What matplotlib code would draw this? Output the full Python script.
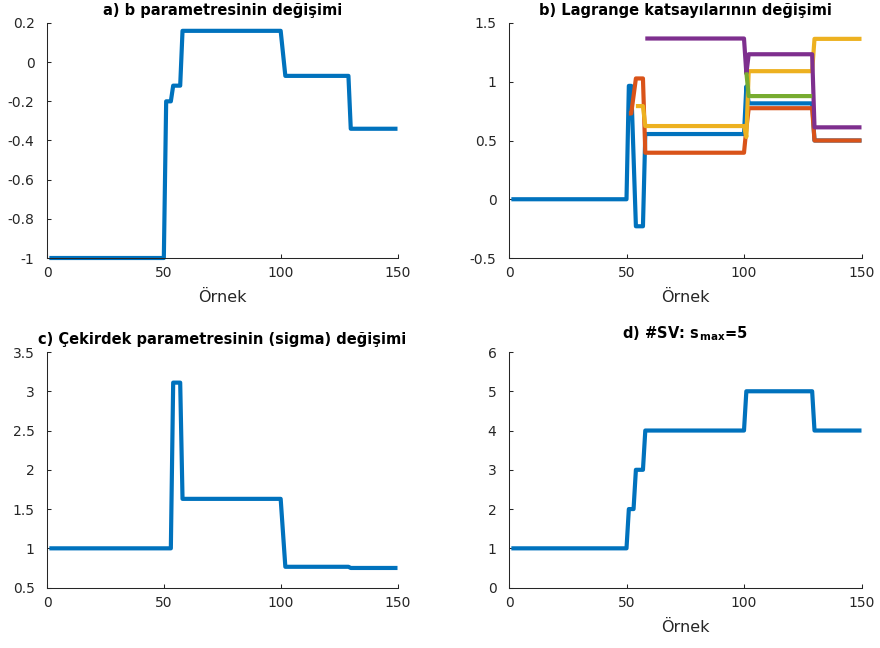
import numpy as np
import matplotlib
matplotlib.use("Agg")
import matplotlib.pyplot as plt

plt.rcParams['font.family'] = ['DejaVu Sans']
plt.rcParams['mathtext.fontset'] = 'dejavusans'

# ---- data: every series is a step signal given as (level, run length) ----
samples = np.arange(1, 151)

b_levels = [-1.0, -0.2, -0.12, 0.16, 0.045, -0.07, -0.34]
b_runs = [50, 3, 4, 43, 1, 28, 21]

alpha1_levels = [0.0, 0.965, 0.37, -0.23, 0.555, 0.96, 0.816, 0.50]
alpha1_runs = [50, 2, 1, 4, 43, 1, 28, 21]
alpha2_levels = [np.nan, 0.73, 0.88, 1.028, 0.396, 0.60, 0.775, 0.50]
alpha2_runs = [50, 2, 1, 4, 43, 1, 28, 21]
alpha3_levels = [np.nan, 0.793, 0.623, 0.53, 1.09, 1.365]
alpha3_runs = [53, 4, 43, 1, 28, 21]
alpha4_levels = [np.nan, 1.368, 1.07, 1.234, 0.612]
alpha4_runs = [57, 43, 1, 28, 21]
alpha5_levels = [np.nan, 1.08, 0.878, np.nan]
alpha5_runs = [100, 1, 28, 21]

sigma_levels = [1.0, 3.11, 1.63, 1.2, 0.765, 0.75]
sigma_runs = [53, 4, 43, 1, 28, 21]

sv_levels = [1, 2, 3, 4, 5, 4]
sv_runs = [50, 3, 4, 43, 29, 21]

x_ticks = [0, 50, 100, 150]


def steps(levels, runs):
    return np.repeat(np.asarray(levels, dtype=float), runs)


colors = ['#0072BD', '#D95319', '#EDB120', '#7E2F8E', '#77AC30']
axis_color = '#262626'
LW = 3.0
TICK_FS = 10
LABEL_FS = 11.5
TITLE_FS = 10.5

fig = plt.figure(figsize=(8.8, 6.48), dpi=100)
W, H = 880.0, 648.0


def make_axes(left, right, top, bottom):
    return fig.add_axes([left / W, 1 - bottom / H, (right - left) / W, (bottom - top) / H])


ax_a = make_axes(47, 397.5, 23, 258)
ax_b = make_axes(509, 861.5, 23, 258)
ax_c = make_axes(47, 397.5, 352, 587.6)
ax_d = make_axes(509, 861.5, 352, 587.6)


def style(ax, yticks, ylabels, ylim):
    ax.set_xlim(0, 150)
    ax.set_ylim(*ylim)
    ax.set_xticks(x_ticks)
    ax.set_xticklabels([str(t) for t in x_ticks])
    ax.set_yticks(yticks)
    ax.set_yticklabels(ylabels)
    for side in ('top', 'right'):
        ax.spines[side].set_visible(False)
    for side in ('left', 'bottom'):
        ax.spines[side].set_color(axis_color)
        ax.spines[side].set_linewidth(0.75)
    ax.tick_params(direction='in', length=2.6, width=0.75, colors=axis_color,
                   labelsize=TICK_FS)
    ax.tick_params(axis='y', pad=9)
    ax.tick_params(axis='x', pad=6)


def plot_step(ax, levels, runs, color):
    ax.plot(samples, steps(levels, runs), color=color, lw=LW,
            solid_capstyle='butt', solid_joinstyle='round', clip_on=False)


# a) bias term
plot_step(ax_a, b_levels, b_runs, colors[0])
style(ax_a, [-1, -0.8, -0.6, -0.4, -0.2, 0, 0.2],
      ['-1', '-0.8', '-0.6', '-0.4', '-0.2', '0', '0.2'], (-1, 0.2))
ax_a.set_title('a) b parametresinin değişimi', fontsize=TITLE_FS,
               fontweight='bold', pad=6)
ax_a.set_xlabel('Örnek', fontsize=LABEL_FS, color=axis_color, labelpad=7)

# b) Lagrange multipliers
for lv, rn, c in [(alpha1_levels, alpha1_runs, colors[0]),
                  (alpha2_levels, alpha2_runs, colors[1]),
                  (alpha3_levels, alpha3_runs, colors[2]),
                  (alpha4_levels, alpha4_runs, colors[3]),
                  (alpha5_levels, alpha5_runs, colors[4])]:
    plot_step(ax_b, lv, rn, c)
style(ax_b, [-0.5, 0, 0.5, 1, 1.5], ['-0.5', '0', '0.5', '1', '1.5'], (-0.5, 1.5))
ax_b.set_title('b) Lagrange katsayılarının değişimi', fontsize=TITLE_FS,
               fontweight='bold', pad=6)
ax_b.set_xlabel('Örnek', fontsize=LABEL_FS, color=axis_color, labelpad=7)

# c) kernel width
plot_step(ax_c, sigma_levels, sigma_runs, colors[0])
style(ax_c, [0.5, 1, 1.5, 2, 2.5, 3, 3.5],
      ['0.5', '1', '1.5', '2', '2.5', '3', '3.5'], (0.5, 3.5))
ax_c.set_title('c) Çekirdek parametresinin (sigma) değişimi', fontsize=TITLE_FS,
               fontweight='bold', pad=6)

# d) number of support vectors
plot_step(ax_d, sv_levels, sv_runs, colors[0])
style(ax_d, [0, 1, 2, 3, 4, 5, 6], ['0', '1', '2', '3', '4', '5', '6'], (0, 6))
ax_d.set_title(r'd) #SV: s$_{\,\mathbf{max}}$=5', fontsize=TITLE_FS,
               fontweight='bold', pad=10)
ax_d.set_xlabel('Örnek', fontsize=LABEL_FS, color=axis_color, labelpad=7)

fig.savefig('out.png', dpi=100)
